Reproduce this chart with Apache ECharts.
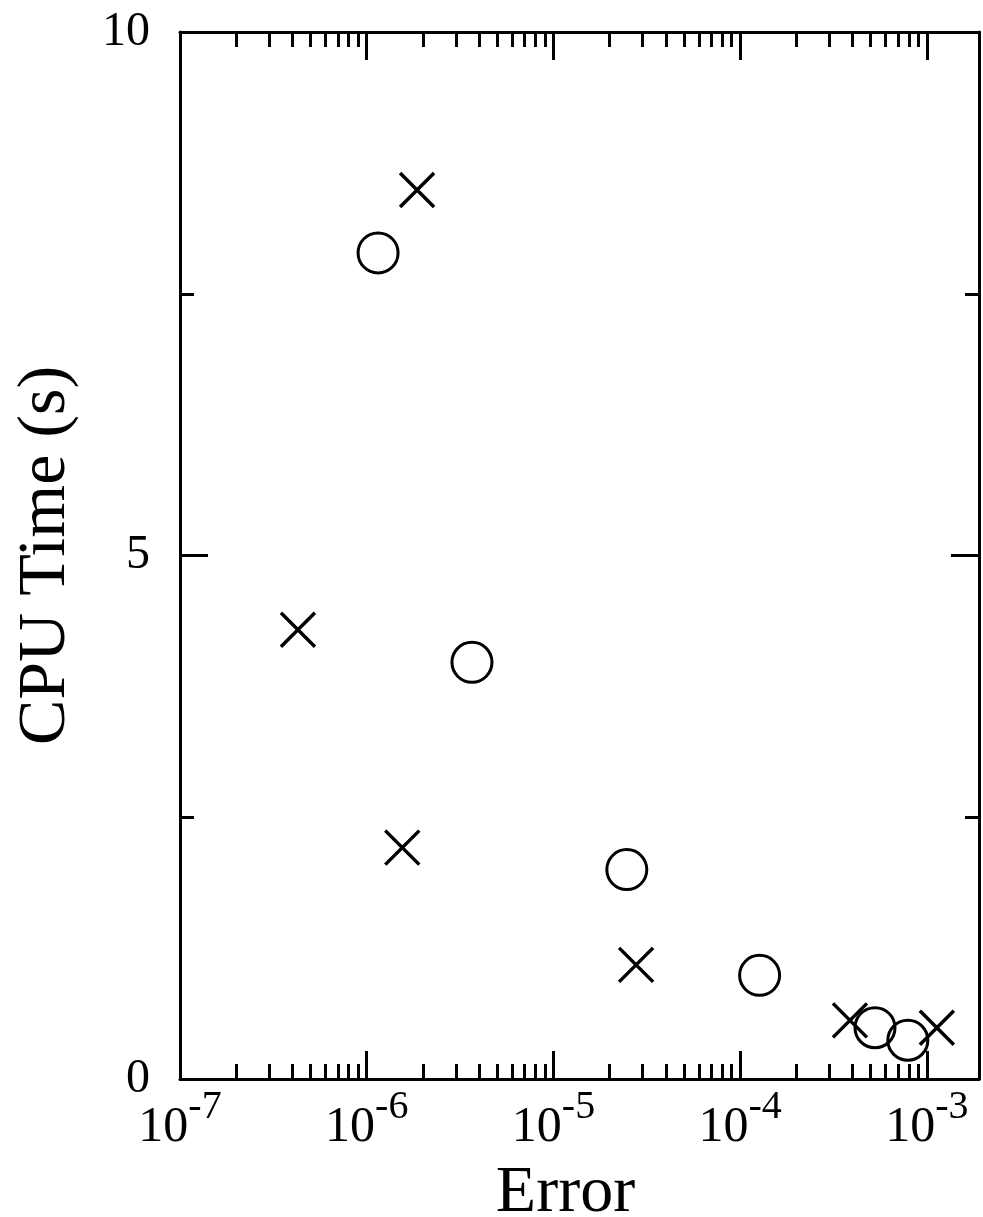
<!DOCTYPE html>
<html>
<head>
<meta charset="utf-8">
<script src="https://cdn.jsdelivr.net/npm/echarts@6/dist/echarts.min.js"></script>
<style>
body { margin: 0; background: #fff; }
#chart { width: 983px; height: 1217px; }
</style>
</head>
<body>
<div id="chart"></div>
<script>
// circles
var circleErr = [1.15e-6, 3.66e-6, 2.47e-5, 1.27e-4, 5.27e-4, 7.9e-4];
var circleTime = [7.89, 3.98, 2.0, 0.99, 0.49, 0.37];
// crosses
var crossErr = [1.86e-6, 4.28e-7, 1.55e-6, 2.77e-5, 3.87e-4, 1.13e-3];
var crossTime = [8.49, 4.29, 2.21, 1.09, 0.56, 0.49];

var xMin = 1e-7;
var xMax = 1.9e-3;
var decades = [1e-7, 1e-6, 1e-5, 1e-4, 1e-3];
var minorSteps = [2, 3, 4, 5, 6, 7, 8, 9];
var yTicks = [0, 5, 10];

// minor ticks of the log axis, in log10 units for the helper axes
var minorLog = [];
decades.forEach(function (d) {
    minorSteps.forEach(function (m) {
        var v = d * m;
        if (v <= xMax) minorLog.push(Math.log10(v));
    });
});

function pairs(xs, ys) {
    var out = [];
    for (var i = 0; i < xs.length; i++) out.push([xs[i], ys[i]]);
    return out;
}

var font = 'Liberation Serif';
var ink = '#000';
var rect = { left: 180, right: 4, top: 32, bottom: 138, containLabel: false, outerBoundsMode: 'none' };

var dom = document.getElementById('chart');
var myChart = echarts.init(dom);
var option = null;

function majorX(pos, showLabel) {
    return {
        type: 'log',
        gridIndex: 0,
        position: pos,
        min: xMin,
        max: xMax,
        logBase: 10,
        name: showLabel ? 'Error' : '',
        nameLocation: 'middle',
        nameGap: 82,
        nameTextStyle: { fontFamily: font, fontSize: 66, color: ink, padding: [0, 28, 0, 0] },
        axisLine: { show: true, onZero: false, lineStyle: { color: ink, width: 3 } },
        axisTick: { show: true, inside: true, length: 28, lineStyle: { color: ink, width: 3 } },
        minorTick: { show: false },
        splitLine: { show: false },
        axisLabel: {
            show: showLabel,
            margin: 13,
            formatter: function (v) {
                var e = Math.round(Math.log10(v));
                return '{b|10}{s|' + e + '}';
            },
            rich: {
                b: { fontFamily: font, fontSize: 50, lineHeight: 50, color: ink, padding: [22, 0, 0, 0] },
                s: { fontFamily: font, fontSize: 40, lineHeight: 40, color: ink, padding: [0, 0, 20, 0] }
            }
        }
    };
}

function minorX(pos) {
    return {
        type: 'value',
        gridIndex: 1,
        position: pos,
        min: Math.log10(xMin),
        max: Math.log10(xMax),
        axisLine: { show: false, onZero: false },
        axisTick: { show: true, inside: true, length: 15, customValues: minorLog, lineStyle: { color: ink, width: 3 } },
        axisLabel: { show: false },
        splitLine: { show: false }
    };
}

function yAx(pos, showLabel) {
    return {
        type: 'value',
        gridIndex: 0,
        position: pos,
        min: 0,
        max: 10,
        interval: 5,
        name: showLabel ? 'CPU Time (s)' : '',
        nameLocation: 'middle',
        nameGap: 100,
        nameTextStyle: { fontFamily: font, fontSize: 68, color: ink },
        axisLine: { show: true, onZero: false, lineStyle: { color: ink, width: 3 } },
        axisTick: { show: true, inside: true, length: 28, lineStyle: { color: ink, width: 3 } },
        minorTick: { show: true, splitNumber: 2, length: 14, lineStyle: { color: ink, width: 3 } },
        splitLine: { show: false },
        minorSplitLine: { show: false },
        axisLabel: {
            show: showLabel,
            margin: 30,
            fontFamily: font,
            fontSize: 48,
            color: ink,
            formatter: function (v) { return yTicks.indexOf(v) >= 0 ? String(v) : ''; }
        }
    };
}

var hiddenY = { type: 'value', gridIndex: 1, min: 0, max: 10, show: false, axisLine: { onZero: false } };

option = {
    backgroundColor: '#fff',
    animation: false,
    grid: [echarts.util.clone(rect), echarts.util.clone(rect)],
    xAxis: [majorX('bottom', true), majorX('top', false), minorX('bottom'), minorX('top')],
    yAxis: [yAx('left', true), yAx('right', false), hiddenY],
    series: [
        {
            name: 'circle',
            type: 'scatter',
            xAxisIndex: 0,
            yAxisIndex: 0,
            symbol: 'circle',
            symbolSize: 40,
            itemStyle: { color: 'transparent', borderColor: ink, borderWidth: 3, opacity: 1 },
            data: pairs(circleErr, circleTime)
        },
        {
            name: 'cross',
            type: 'scatter',
            xAxisIndex: 0,
            yAxisIndex: 0,
            symbol: 'path://M0,0L10,10M10,0L0,10',
            symbolSize: 34,
            itemStyle: { color: 'transparent', borderColor: ink, borderWidth: 3.5, opacity: 1 },
            data: pairs(crossErr, crossTime)
        }
    ]
};

if (option && typeof option === "object") {
    myChart.setOption(option, true);
}
</script>
</body>
</html>
